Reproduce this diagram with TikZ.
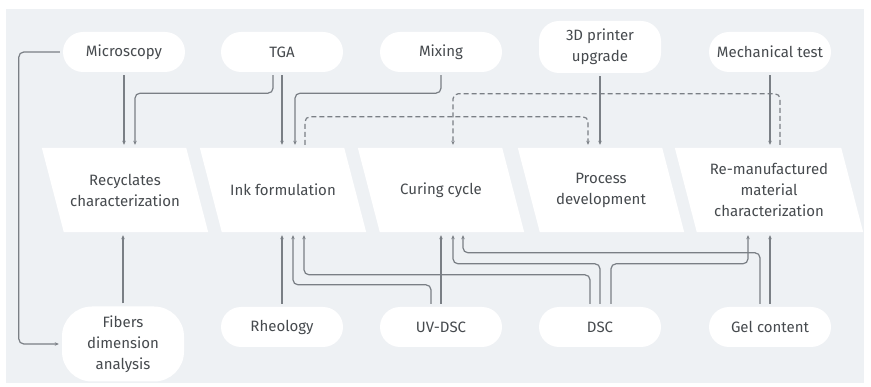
\documentclass[tikz,border=0pt]{standalone}
\usepackage{fontspec}
\setmainfont{Fira Sans}
\usetikzlibrary{positioning,backgrounds,arrows.meta}
\definecolor{bgblue}{RGB}{238,241,244}
\definecolor{linegray}{RGB}{122,127,133}
\definecolor{textgray}{RGB}{70,74,78}

\begin{document}
\begin{tikzpicture}[x=1pt,y=-1pt,
    every node/.style={font=\fontsize{15}{21}\selectfont,text=textgray,align=center},
    pill/.style={fill=white,rounded corners=20pt,minimum width=122pt,minimum height=40pt,inner sep=2pt},
    task/.style={minimum width=144pt,minimum height=84pt,inner sep=2pt},
    link/.style={linegray,line width=1.2pt,rounded corners=5pt,
      -{Stealth[length=4pt,width=3.5pt]},shorten >=3pt,shorten <=3pt},
    dlink/.style={link,dash pattern=on 5pt off 3pt},
  ]
  \useasboundingbox (0,0) rectangle (871,387);

  % tests and inputs
  \node[pill] (micro) at (124,52) {Microscopy};
  \node[pill] (tga) at (282,52) {TGA};
  \node[pill] (mix) at (441,52) {Mixing};
  \node[pill,minimum height=52pt] (printer) at (600,47) {3D printer\\upgrade};
  \node[pill] (mech) at (770,52) {Mechanical test};

  % work packages
  \node[task] (recy) at (125,190) {Recyclates\\characterization};
  \node[task] (ink) at (283,190) {Ink formulation};
  \node[task] (cure) at (441,190) {Curing cycle};
  \node[task] (proc) at (601,190) {Process\\development};
  \node[task,minimum width=166pt] (reman) at (769,190) {Re-manufactured\\material\\characterization};

  \node[pill,minimum height=75pt,rounded corners=30pt] (fib) at (123,344) {Fibers\\dimension\\analysis};
  \node[pill] (rheo) at (282,327) {Rheology};
  \node[pill] (uv) at (441,327) {UV-DSC};
  \node[pill] (dsc) at (600,327) {DSC};
  \node[pill] (gel) at (770,327) {Gel content};

  \begin{scope}[on background layer]
    \fill[bgblue] (6,9) rectangle (864,383);
    \foreach \n in {recy,ink,cure,proc,reman}
      \fill[white] ([xshift=-11pt]\n.north west) -- ([xshift=-11pt]\n.north east)
        -- ([xshift=11pt]\n.south east) -- ([xshift=11pt]\n.south west) -- cycle;
  \end{scope}

  % top links
  \draw[link] (micro.south) -- (micro.south |- recy.north);
  \draw[link] ([xshift=-9pt]tga.south) -- ++(0,21) -| ([xshift=10pt]recy.north);
  \draw[link] (tga.south) -- (tga.south |- ink.north);
  \draw[link] (mix.south) -- ++(0,21) -| ([xshift=12pt]ink.north);
  \draw[dlink] ([xshift=22pt]ink.north) -- ++(0,-31) -| ([xshift=-13pt]proc.north);
  \draw[dlink] ([xshift=11pt]reman.north) -- ++(0,-54) -| ([xshift=12pt]cure.north);
  \draw[link] (printer.south) -- (printer.south |- proc.north);
  \draw[link] (mech.south) -- (mech.south |- reman.north);
  \draw[link] (micro.west) -- ++(-44,0) |- (fib.west);

  % bottom links
  \draw[link] (fib.north) -- (fib.north |- recy.south);
  \draw[link] (rheo.north) -- (rheo.north |- ink.south);
  \draw[link] ([xshift=-10pt]uv.north) -- ++(0,-22) -| ([xshift=10pt]ink.south);
  \draw[link] (uv.north) -- (uv.north |- cure.south);
  \draw[link] ([xshift=-10pt]dsc.north) -- ++(0,-32) -| ([xshift=21pt]ink.south);
  \draw[link] (dsc.north) -- ++(0,-43) -| ([xshift=12pt]cure.south);
  \draw[link] ([xshift=11pt]dsc.north) -- ++(0,-43) -| ([xshift=-21pt]reman.south);
  \draw[link] ([xshift=-10pt]gel.north) -- ++(0,-54) -| ([xshift=22pt]cure.south);
  \draw[link] (gel.north) -- (gel.north |- reman.south);
\end{tikzpicture}
\end{document}
